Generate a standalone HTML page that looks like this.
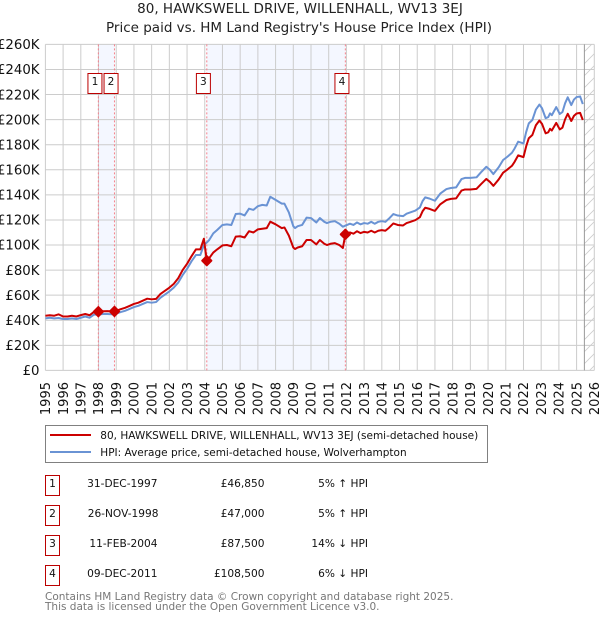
<!DOCTYPE html>
<html>
<head>
<meta charset="utf-8">
<style>
html,body{margin:0;padding:0;background:#fff;}
svg{display:block;font-family:"DejaVu Sans","Liberation Sans",sans-serif;}
</style>
</head>
<body>
<svg id="chart" xmlns="http://www.w3.org/2000/svg" width="600" height="620" viewBox="0 0 600 620">
<defs>
<pattern id="hatch" patternUnits="userSpaceOnUse" width="12" height="12">
<path d="M-1 13L13 -1M-1 1L1 -1M11 13L13 11" stroke="#cccccc" stroke-width="0.8" fill="none"/>
</pattern>
</defs>
<text x="300" y="13" text-anchor="middle" font-size="13.5" fill="#222">80, HAWKSWELL DRIVE, WILLENHALL, WV13 3EJ</text>
<text x="299" y="32" text-anchor="middle" font-size="13.5" fill="#222">Price paid vs. HM Land Registry's House Price Index (HPI)</text>
<g id="plot"></g>
<g>
<rect x="45.5" y="425.5" width="442" height="37" fill="#fff" stroke="#808080" stroke-width="1"/>
<line x1="50" x2="91" y1="435" y2="435" stroke="#cc0000" stroke-width="2"/>
<text x="100.3" y="439" font-size="10.5" fill="#111">80, HAWKSWELL DRIVE, WILLENHALL, WV13 3EJ (semi-detached house)</text>
<line x1="50" x2="91" y1="452" y2="452" stroke="#6a93d4" stroke-width="2"/>
<text x="100.3" y="456" font-size="10.5" fill="#111">HPI: Average price, semi-detached house, Wolverhampton</text>
</g>
<g font-size="10.6" fill="#111">
<g>
<rect x="45.5" y="475.5" width="14" height="20" fill="#fff" stroke="#bb0000" stroke-width="1"/>
<text x="52.5" y="487" text-anchor="middle">1</text>
<text x="157.5" y="487" text-anchor="end">31-DEC-1997</text>
<text x="264.5" y="487" text-anchor="end">£46,850</text>
<text x="368" y="487" text-anchor="end">5% ↑ HPI</text>
</g>
<g>
<rect x="45.5" y="505.5" width="14" height="20" fill="#fff" stroke="#bb0000" stroke-width="1"/>
<text x="52.5" y="517" text-anchor="middle">2</text>
<text x="158.5" y="517" text-anchor="end">26-NOV-1998</text>
<text x="264.5" y="517" text-anchor="end">£47,000</text>
<text x="368" y="517" text-anchor="end">5% ↑ HPI</text>
</g>
<g>
<rect x="45.5" y="535.5" width="14" height="20" fill="#fff" stroke="#bb0000" stroke-width="1"/>
<text x="52.5" y="547" text-anchor="middle">3</text>
<text x="157.5" y="547" text-anchor="end">11-FEB-2004</text>
<text x="264.5" y="547" text-anchor="end">£87,500</text>
<text x="368" y="547" text-anchor="end">14% ↓ HPI</text>
</g>
<g>
<rect x="45.5" y="565.5" width="14" height="20" fill="#fff" stroke="#bb0000" stroke-width="1"/>
<text x="52.5" y="577" text-anchor="middle">4</text>
<text x="157.5" y="577" text-anchor="end">09-DEC-2011</text>
<text x="264.5" y="577" text-anchor="end">£108,500</text>
<text x="368" y="577" text-anchor="end">6% ↓ HPI</text>
</g>
</g>
<text x="45" y="600" font-size="10.5" fill="#777">Contains HM Land Registry data © Crown copyright and database right 2025.</text>
<text x="45" y="610" font-size="10.5" fill="#777">This data is licensed under the Open Government Licence v3.0.</text>
</svg>
<script>
const yearTicks = [1995,1996,1997,1998,1999,2000,2001,2002,2003,2004,2005,2006,2007,2008,2009,2010,2011,2012,2013,2014,2015,2016,2017,2018,2019,2020,2021,2022,2023,2024,2025,2026];
const valueTicks = [0,20,40,60,80,100,120,140,160,180,200,220,240,260];
const saleDates = [1997.99,1998.9,2004.115,2011.94];
const salePrices = [46.85,47,87.5,108.5];
const saleLabels = ["1","2","3","4"];
const dataEnd = 2025.44;
const hpiDates = [1995,1995.25,1995.5,1995.75,1996,1996.25,1996.5,1996.75,1997,1997.25,1997.5,1997.75,1997.99,1998.25,1998.5,1998.75,1998.9,1999.25,1999.5,1999.75,2000,2000.25,2000.5,2000.75,2001,2001.25,2001.5,2001.75,2002,2002.25,2002.5,2002.75,2003,2003.25,2003.5,2003.75,2003.95,2004.115,2004.25,2004.48,2004.7,2005,2005.25,2005.5,2005.75,2006,2006.25,2006.5,2006.75,2007,2007.25,2007.5,2007.7,2008,2008.35,2008.5,2008.75,2009,2009.1,2009.25,2009.5,2009.75,2010,2010.3,2010.5,2010.75,2010.9,2011.1,2011.35,2011.6,2011.8,2011.94,2012.2,2012.4,2012.6,2012.8,2013,2013.2,2013.4,2013.6,2013.8,2014,2014.2,2014.4,2014.65,2014.9,2015.2,2015.4,2015.6,2015.9,2016.15,2016.3,2016.45,2016.7,2017,2017.3,2017.65,2017.9,2018.2,2018.5,2018.7,2019,2019.35,2019.6,2019.9,2020.1,2020.3,2020.6,2020.85,2021.1,2021.35,2021.5,2021.7,2022,2022.15,2022.3,2022.5,2022.7,2022.9,2023.05,2023.25,2023.4,2023.5,2023.6,2023.85,2024.05,2024.2,2024.35,2024.5,2024.7,2024.85,2025,2025.2,2025.35];
const hpiValues = [41.5,42,41.5,41.8,41,41,41.5,41,42,43,42,44.5,44.6,45,45,44.8,44.8,46.5,47.5,49,50.5,51.5,53,54.5,54,54.5,58,60.5,63,66,70,76,81,87,92,92,100,102,104,109.3,112,116,116.5,116,124.7,125,123.6,129,128,131,132,131.5,138.5,136,133,133,126,115,113.5,115,116,121.8,121.5,118,121.5,118.5,117.5,118.5,119,117,114.6,115.4,117,116,118,116.5,117.5,117,118.5,117,118.5,119,118.5,121,124.7,123.5,123,125,126,127.5,130,135,138,137,135.3,141,144.6,145.5,146,152.6,153.5,153.5,154,158,162.4,160,156.6,162,167.8,170.5,173.6,177,182.4,181,190,197,199.7,208,212,209,201.2,202,205,203.5,210,204.5,206,213,217.8,211.6,216,218,218.5,212.4];
const priceValues = [43.6,44,43.6,44.7,43,43,43.6,43,44.1,45,44,46.7,46.85,47.2,47.3,47.1,47,48.8,49.9,51.4,53,54,55.6,57.2,56.7,57,61,63.5,66,69,73.5,80,85,91,96.5,96.5,105,87.5,89.5,94,96.5,99.7,100,99,106.7,107,106,111,110,112.5,113,113.5,118.6,116.5,113.5,114,107.5,98,96.8,98,99,104,104,100.5,104,101,100,101,101.5,100,97.6,108.5,110,109,111,109.5,110.5,110,111.4,110,111.4,111.9,111.4,113.7,117.2,116,115.6,117.5,118.4,119.9,122.2,126.9,129.7,128.8,127.2,132.5,135.9,136.8,137.2,143.4,144.3,144.3,144.8,148.5,152.7,150.4,147.2,152.3,157.7,160.3,163.2,166.4,171.5,170.1,178.6,185.2,187.7,195.5,199.3,196.5,189.1,189.9,192.7,191.3,197.4,192.2,193.6,200.2,204.7,198.9,203,204.9,205.4,199.7];

const NS = "http://www.w3.org/2000/svg";
const plot = document.getElementById("plot");
const xLeft = 45.4, xRight = 594.3, yZero = 370.4, yTop = 44.4;
function xScale(year){ return xLeft + (year - 1995) / 31 * (xRight - xLeft); }
function yScale(value){ return yZero - value / 260 * (yZero - yTop); }
function make(tag, attrs, parent){
  const el = document.createElementNS(NS, tag);
  for (const k in attrs) el.setAttribute(k, attrs[k]);
  (parent || plot).appendChild(el);
  return el;
}
function linePath(dates, values){
  return dates.map(function(d, i){ return (i ? "L" : "M") + xScale(d).toFixed(2) + " " + yScale(values[i]).toFixed(2); }).join("");
}

// shaded ownership spans
[[0,1],[2,3]].forEach(function(pair){
  const band = make("rect", {x: xScale(saleDates[pair[0]]), y: yTop, width: xScale(saleDates[pair[1]]) - xScale(saleDates[pair[0]]), height: yZero - yTop, fill: "#f4f7ff"});
  
  
});

// gridlines and tick labels
yearTicks.forEach(function(year){
  const g = make("line", {x1: xScale(year), x2: xScale(year), y1: yTop, y2: yZero, stroke: "#cccccc", "stroke-width": 1});
  
  
  const x = xScale(year) + 4.7, y = 382;
  const t = make("text", {x: x, y: y, "font-size": 13, fill: "#111", "text-anchor": "end", transform: "rotate(-90 " + x + " " + y + ")"});
  t.textContent = String(year);
  
  
});
valueTicks.forEach(function(v){
  const g = make("line", {x1: xLeft, x2: xRight, y1: yScale(v), y2: yScale(v), stroke: "#cccccc", "stroke-width": 1});
  
  
  const t = make("text", {x: 39.5, y: yScale(v) + 4.7, "font-size": 13.3, fill: "#111", "text-anchor": "end"});
  t.textContent = v === 0 ? "£0" : "£" + v + "K";
  
  
});

// forecast hatch
const hatchArea = make("rect", {x: xScale(dataEnd), y: yTop, width: xRight - xScale(dataEnd), height: yZero - yTop, fill: "url(#hatch)"});


const endLine = make("line", {x1: xScale(dataEnd), x2: xScale(dataEnd), y1: yTop, y2: yZero, stroke: "#999999", "stroke-width": 1});



// sale lines
saleDates.forEach(function(d){
  const l = make("line", {x1: xScale(d), x2: xScale(d), y1: yTop, y2: yZero, stroke: "#f4808c", "stroke-width": 1, "stroke-dasharray": "2 2"});
  
  
});

// series
const hpiLine = make("path", {d: linePath(hpiDates, hpiValues), fill: "none", stroke: "#6a93d4", "stroke-width": 2, "stroke-linejoin": "round"});


const priceLine = make("path", {d: linePath(hpiDates, priceValues), fill: "none", stroke: "#cc0000", "stroke-width": 2, "stroke-linejoin": "round"});



// sale markers
saleDates.forEach(function(d, i){
  const cx = xScale(d), cy = yScale(salePrices[i]), r = 4.6;
  const m = make("path", {d: "M" + (cx - r) + " " + cy + "L" + cx + " " + (cy - r) + "L" + (cx + r) + " " + cy + "L" + cx + " " + (cy + r) + "Z", fill: "#cc0000", stroke: "#cc0000", "stroke-width": 2, "stroke-linejoin": "round"});
  
  
});

// numbered labels
saleDates.forEach(function(d, i){
  const cx = xScale(d) - 3.4;
  const b = make("rect", {x: cx - 7, y: 73.5, width: 14, height: 20, fill: "#fff", stroke: "#bb0000", "stroke-width": 1});
  
  
  const t = make("text", {x: cx, y: 85, "font-size": 10.6, fill: "#111", "text-anchor": "middle"});
  t.textContent = saleLabels[i];
  
  
});
</script>
</body>
</html>
